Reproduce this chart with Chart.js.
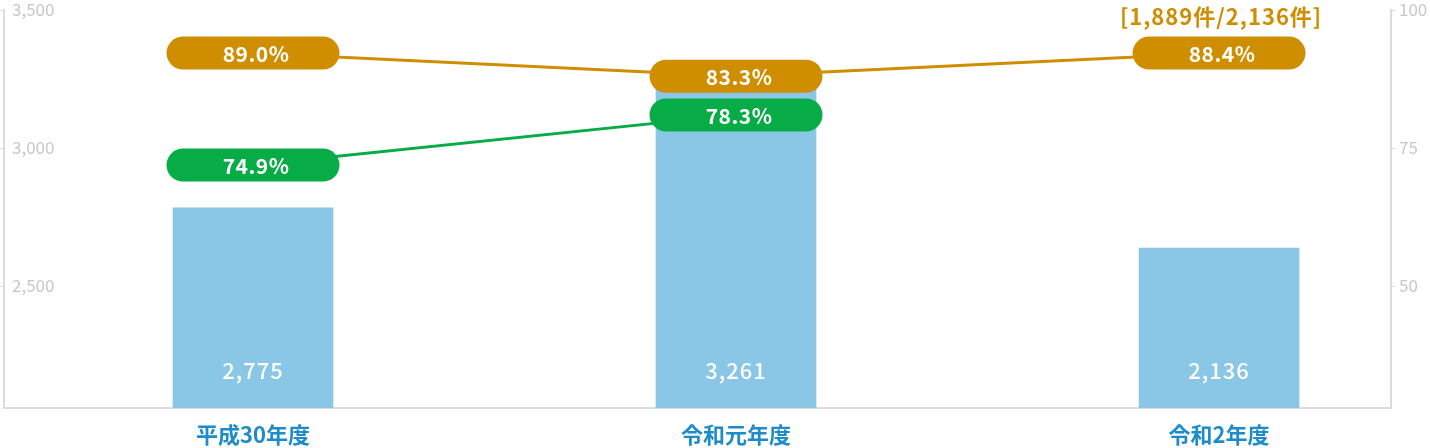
<!DOCTYPE html>
<html>
<head>
<meta charset="utf-8">
<script src="https://cdn.jsdelivr.net/npm/chart.js@4"></script>
<style>
  html, body { margin: 0; padding: 0; background: #fff; }
  #wrap { width: 1430px; height: 448px; }
</style>
</head>
<body>
<div id="wrap"><canvas id="chart"></canvas></div>
<script>
const categories = ['平成30年度', '令和元年度', '令和2年度']
// bar heights, labels as printed on the bars
const barValues = [2783, 3261, 2637]
const barLabels = ['2,775', '3,261', '2,136']
// line points, labels as printed in the pills
const orangeRates = [92.2, 88.0, 92.2]
const orangeLabels = ['89.0%', '83.3%', '88.4%']
const greenRates = [71.9, 81.0, null]
const greenLabels = ['74.9%', '78.3%', null]
const leftTicks = [2500, 3000, 3500]
const rightTicks = [50, 75, 100]
const note = '[1,889件/2,136件]'

const FONT = "'Noto Sans CJK JP', 'Noto Sans', sans-serif"
const ORANGE = '#CF8E00'
const GREEN = '#07AC47'
const BAR = '#8AC6E5'
const AXIS = '#DCDCDC'

function toPoints(values) {
    return values.map((v, i) => ({x: i, y: v}))
}

function fixVertical(scale, width) {
    scale.width = width
    scale.paddingTop = 10
    scale.paddingBottom = 0
}

const pillPlugin = {
    id: 'pills',
    afterDatasetsDraw(chart) {
        const ctx = chart.ctx
        ctx.save()
        ctx.textAlign = 'center'
        ctx.textBaseline = 'middle'
        // bar value labels
        const barMeta = chart.getDatasetMeta(0)
        ctx.font = '500 22px ' + FONT
        ctx.letterSpacing = '1px'
        ctx.fillStyle = '#fff'
        barMeta.data.forEach((bar, i) => {
            ctx.fillText(barLabels[i], bar.x, chart.chartArea.bottom - 37)
        })
        // pills on line points
        ;[1, 2].forEach(di => {
            const ds = chart.data.datasets[di]
            const meta = chart.getDatasetMeta(di)
            meta.data.forEach((pt, i) => {
                const txt = ds.pillLabels[i]
                if (!txt) return
                const w = 173, h = 33
                ctx.beginPath()
                ctx.fillStyle = ds.borderColor
                ctx.roundRect(pt.x - w / 2, pt.y - h / 2, w, h, h / 2)
                ctx.fill()
                ctx.fillStyle = '#fff'
                ctx.font = 'bold 21px ' + FONT
                ctx.letterSpacing = '0.5px'
                ctx.fillText(txt, pt.x + 3, pt.y + 1)
            })
        })
        // note above last orange point
        const last = chart.getDatasetMeta(1).data[2]
        ctx.fillStyle = ORANGE
        ctx.font = 'bold 22px ' + FONT
        ctx.letterSpacing = '1px'
        ctx.fillText(note, last.x + 2, last.y - 36)
        ctx.restore()
    }
}

const config = {
    type: 'bar',
    data: {
        datasets: [
            {
                type: 'bar',
                data: toPoints(barValues),
                backgroundColor: BAR,
                barThickness: 160,
                yAxisID: 'y',
                order: 3
            },
            {
                type: 'line',
                data: toPoints(orangeRates),
                pillLabels: orangeLabels,
                borderColor: ORANGE,
                borderWidth: 3,
                pointRadius: 0,
                yAxisID: 'y2',
                order: 2,
                clip: false
            },
            {
                type: 'line',
                data: toPoints(greenRates),
                pillLabels: greenLabels,
                borderColor: GREEN,
                borderWidth: 3,
                pointRadius: 0,
                yAxisID: 'y2',
                order: 1,
                clip: false
            }
        ]
    },
    options: {
        responsive: true,
        maintainAspectRatio: false,
        animation: false,
        layout: {padding: 0},
        plugins: {
            legend: {display: false},
            tooltip: {enabled: false}
        },
        scales: {
            x: {
                type: 'linear',
                offset: false,
                min: -0.5155,
                max: 2.356,
                afterBuildTicks: scale => { scale.ticks = categories.map((c, i) => ({value: i})) },
                afterFit: scale => { scale.height = 40 },
                grid: {drawOnChartArea: false, drawTicks: false},
                border: {color: AXIS, width: 2},
                ticks: {
                    padding: 13,
                    color: '#1E8CCB',
                    font: {family: FONT, size: 22, weight: 'bold'},
                    callback: v => categories[v]
                }
            },
            y: {
                position: 'left',
                min: 2058,
                max: 3500,
                afterBuildTicks: scale => { scale.ticks = leftTicks.map(v => ({value: v})) },
                afterFit: scale => fixVertical(scale, 4),
                grid: {drawOnChartArea: false, tickLength: 4, color: AXIS},
                border: {color: AXIS, width: 2},
                ticks: {
                    mirror: true,
                    padding: 8,
                    color: '#C8C8C8',
                    font: {family: FONT, size: 17},
                    callback: v => v.toLocaleString('en-US')
                }
            },
            y2: {
                position: 'right',
                min: 27.9,
                max: 100,
                afterBuildTicks: scale => { scale.ticks = rightTicks.map(v => ({value: v})) },
                afterFit: scale => fixVertical(scale, 39),
                grid: {drawOnChartArea: false, tickLength: 4, color: AXIS},
                border: {color: AXIS, width: 2},
                ticks: {
                    padding: 4,
                    color: '#C8C8C8',
                    font: {family: FONT, size: 17}
                }
            }
        }
    },
    plugins: [pillPlugin]
}

new Chart(document.getElementById('chart'), config)
</script>
</body>
</html>
